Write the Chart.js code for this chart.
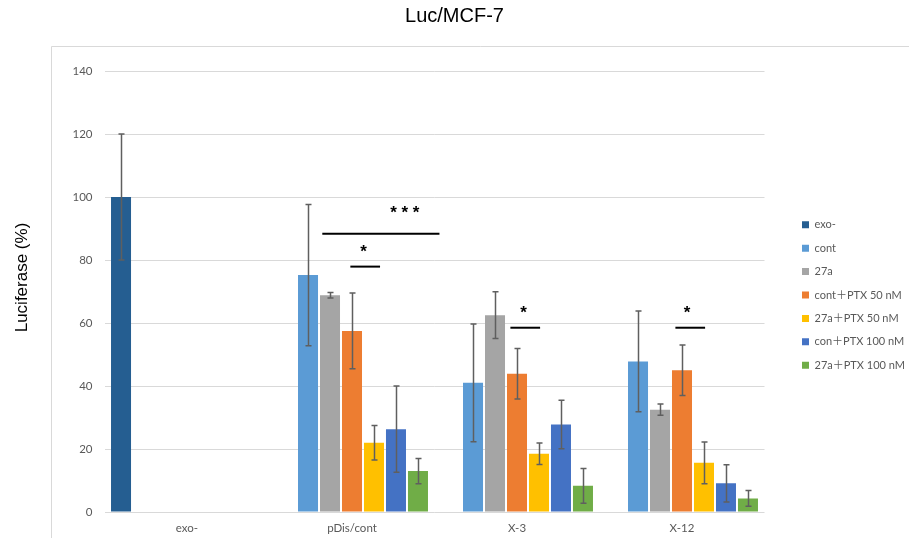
<!DOCTYPE html>
<html>
<head>
<meta charset="utf-8">
<script src="https://cdn.jsdelivr.net/npm/chart.js@4.4.1/dist/chart.umd.min.js"></script>
<style>
html,body{margin:0;padding:0;background:#fff;}
#wrap{width:909px;height:538px;position:relative;}
</style>
</head>
<body>
<div id="wrap"><canvas id="c" width="909" height="538"></canvas></div>
<script>
const categories = ['exo-', 'pDis/cont', 'X-3', 'X-12'];
const seriesNames = ['exo-', 'cont', '27a', 'cont＋PTX 50 nM', '27a＋PTX 50 nM', 'con＋PTX 100 nM', '27a＋PTX 100 nM'];
const exo = [100, null, null, null];
const cont = [null, 75.2, 41.0, 47.8];
const a27 = [null, 68.8, 62.5, 32.5];
const contPTX50 = [null, 57.5, 43.9, 45.0];
const a27PTX50 = [null, 22.0, 18.5, 15.6];
const conPTX100 = [null, 26.3, 27.8, 9.1];
const a27PTX100 = [null, 13.0, 8.3, 4.3];
const exoErr = [20, null, null, null];
const contErr = [null, 22.4, 18.7, 16.0];
const a27Err = [null, 0.9, 7.4, 1.8];
const contPTX50Err = [null, 12.0, 8.0, 8.0];
const a27PTX50Err = [null, 5.5, 3.4, 6.6];
const conPTX100Err = [null, 13.7, 7.7, 5.9];
const a27PTX100Err = [null, 4.0, 5.5, 2.5];
const yTicks = [0, 20, 40, 60, 80, 100, 120, 140];
// significance markers (category-index units on x, data units on y)
const sigText = ['* * *', '*', '*', '*'];
const sigFrom = [0.82, 0.99, 1.96, 2.96];
const sigTo = [1.53, 1.17, 2.14, 3.14];
const sigLineY = [88.3, 77.9, 58.5, 58.5];
const sigStarX = [1.32, 1.07, 2.04, 3.03];
const sigStarY = [96.6, 84.2, 64.8, 64.8];

const colors = ['#255E91', '#5B9BD5', '#A5A5A5', '#ED7D31', '#FFC000', '#4472C4', '#70AD47'];
const values = [exo, cont, a27, contPTX50, a27PTX50, conPTX100, a27PTX100];
const errors = [exoErr, contErr, a27Err, contPTX50Err, a27PTX50Err, conPTX100Err, a27PTX100Err];

const datasets = seriesNames.map((n, i) => ({
  label: n,
  data: values[i],
  errs: errors[i],
  backgroundColor: colors[i],
  borderWidth: 0,
  barPercentage: 0.91,
  categoryPercentage: 0.933
}));

const TICK_FONT = {family: 'Lato, "Liberation Sans", sans-serif', size: 11.5};
const GRAY = '#595959';

const framePlugin = {
  id: 'frame',
  beforeDraw(chart) {
    const ctx = chart.ctx;
    ctx.save();
    ctx.fillStyle = '#fff';
    ctx.fillRect(0, 0, chart.width, chart.height);
    ctx.strokeStyle = '#d9d9d9';
    ctx.lineWidth = 1;
    ctx.beginPath();
    ctx.moveTo(51.5, 538);
    ctx.lineTo(51.5, 46.5);
    ctx.lineTo(909, 46.5);
    ctx.stroke();
    ctx.restore();
  }
};

const errorBarPlugin = {
  id: 'errorBars',
  afterDatasetsDraw(chart) {
    const ctx = chart.ctx;
    const y = chart.scales.y;
    ctx.save();
    ctx.strokeStyle = '#5f5f5f';
    ctx.lineWidth = 1.5;
    chart.data.datasets.forEach((ds, di) => {
      const meta = chart.getDatasetMeta(di);
      ds.data.forEach((v, i) => {
        const e = ds.errs[i];
        if (v == null || e == null) return;
        const bar = meta.data[i];
        const x = Math.round(bar.x) + 0.5;
        const yt = y.getPixelForValue(v + e);
        const yb = y.getPixelForValue(v - e);
        ctx.beginPath();
        ctx.moveTo(x, yt); ctx.lineTo(x, yb);
        ctx.moveTo(x - 3, yt); ctx.lineTo(x + 3, yt);
        ctx.moveTo(x - 3, yb); ctx.lineTo(x + 3, yb);
        ctx.stroke();
      });
    });
    ctx.restore();
  }
};

const sigPlugin = {
  id: 'sig',
  afterDraw(chart) {
    const ctx = chart.ctx;
    const xs = chart.scales.x, ys = chart.scales.y;
    const px = (c) => xs.left + (c + 0.5) * (xs.right - xs.left) / categories.length;
    ctx.save();
    ctx.strokeStyle = '#000';
    ctx.fillStyle = '#000';
    ctx.lineWidth = 2;
    sigText.forEach((t, i) => {
      const yy = ys.getPixelForValue(sigLineY[i]);
      ctx.beginPath();
      ctx.moveTo(px(sigFrom[i]), yy);
      ctx.lineTo(px(sigTo[i]), yy);
      ctx.stroke();
      ctx.font = 'bold 17px "Liberation Sans", Arial, sans-serif';
      ctx.textAlign = 'center';
      ctx.textBaseline = 'alphabetic';
      ctx.fillText(t, px(sigStarX[i]), ys.getPixelForValue(sigStarY[i]) + 10);
    });
    // y axis title
    ctx.translate(22, 277.5);
    ctx.rotate(-Math.PI / 2);
    ctx.font = '17px "Liberation Sans", Arial, sans-serif';
    ctx.textAlign = 'center';
    ctx.textBaseline = 'middle';
    ctx.fillText('Luciferase (%)', 0, 0);
    ctx.restore();
  }
};

new Chart(document.getElementById('c'), {
  type: 'bar',
  data: {labels: categories, datasets},
  plugins: [framePlugin, errorBarPlugin, sigPlugin],
  options: {
    responsive: false,
    animation: false,
    devicePixelRatio: 1,
    layout: {padding: {left: 0, right: 0, top: 0, bottom: 0}},
    plugins: {
      title: {
        display: true,
        text: 'Luc/MCF-7',
        color: '#000',
        font: {family: '"Liberation Sans", Arial, sans-serif', size: 20, weight: 'normal'},
        padding: {top: 4, bottom: 43}
      },
      legend: {
        position: 'right',
        align: 'center',
        maxWidth: 119.4,
        title: {
          display: true,
          text: ' ',
          font: {size: 10},
          padding: {top: 40, bottom: 0}
        },
        labels: {
          boxWidth: 7,
          boxHeight: 7,
          padding: 12.4,
          color: GRAY,
          font: {family: 'Lato, "Noto Sans CJK JP", sans-serif', size: 11}
        }
      },
      tooltip: {enabled: false}
    },
    scales: {
      x: {
        grid: {display: false, drawTicks: false},
        border: {display: false},
        ticks: {color: GRAY, font: TICK_FONT, padding: 9},
        afterFit(s) { s.height = 26; }
      },
      y: {
        min: 0, max: 140,
        afterBuildTicks(s) { s.ticks = yTicks.map(v => ({value: v})); },
        grid: {color: '#d9d9d9', lineWidth: 1, drawTicks: false},
        border: {display: false},
        ticks: {color: GRAY, font: TICK_FONT, padding: 12},
        afterFit(s) { s.width = 104.5; }
      },
      y2: {
        type: 'linear',
        position: 'right',
        display: true,
        grid: {display: false, drawTicks: false},
        border: {display: false},
        ticks: {display: false},
        afterFit(s) { s.width = 25.1; }
      }
    }
  }
});
</script>
</body>
</html>
